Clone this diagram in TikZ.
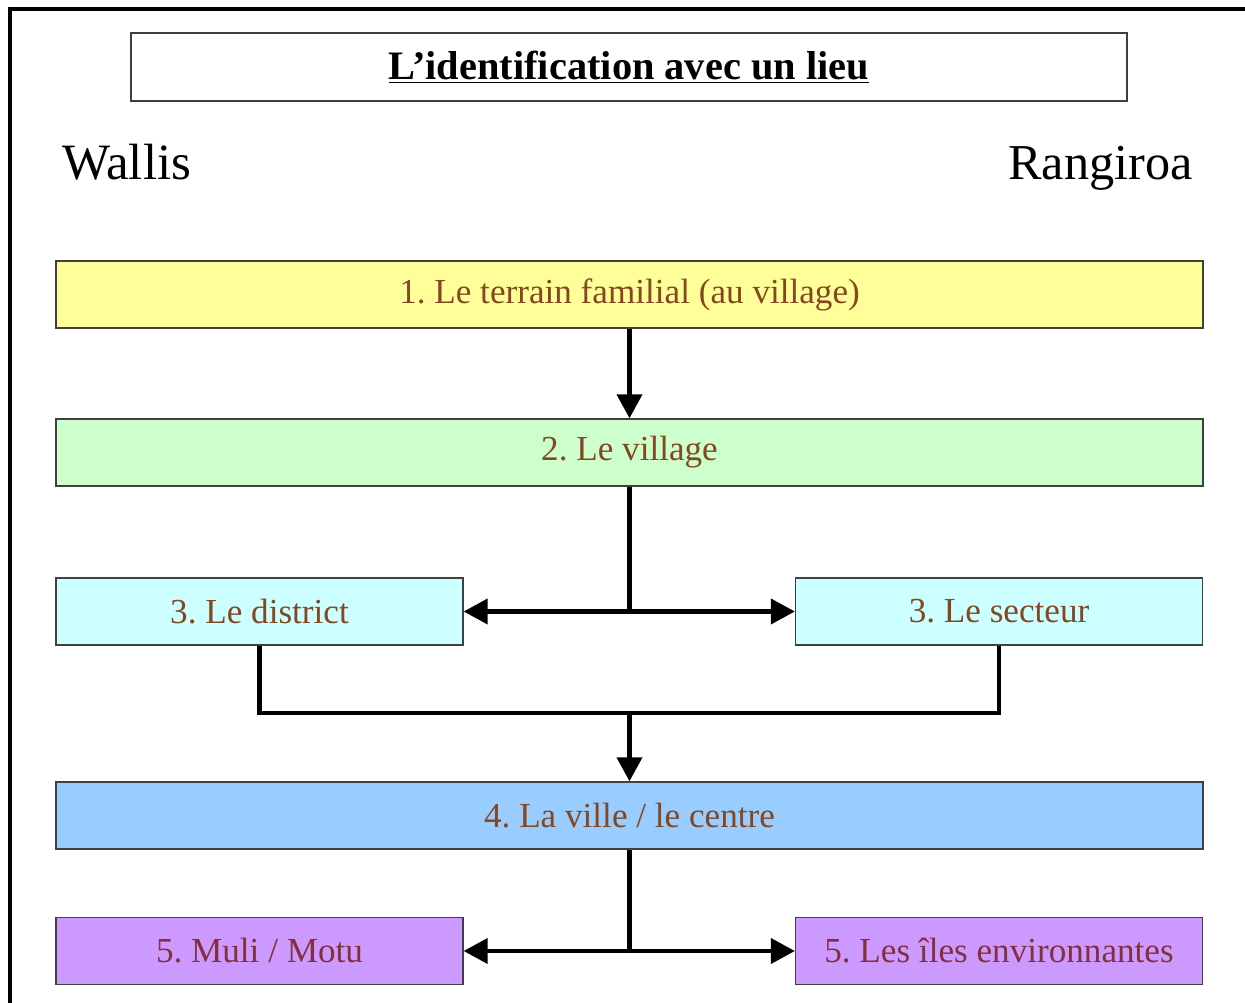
\documentclass[tikz,border=0pt]{standalone}
\usepackage{fontspec}
\setmainfont{Liberation Serif}
\usepackage{tikz}
\usetikzlibrary{arrows.meta, positioning}
\frenchspacing
\definecolor{txtbrun}{RGB}{132,72,32}
\definecolor{txtpourpre}{RGB}{132,48,60}
\definecolor{fondjaune}{RGB}{255,255,153}
\definecolor{fondvert}{RGB}{204,255,204}
\definecolor{fondcyan}{RGB}{204,255,255}
\definecolor{fondbleu}{RGB}{153,204,255}
\definecolor{fondmauve}{RGB}{204,153,255}

\begin{document}
\begin{tikzpicture}[x=0.02cm, y=-0.02cm,
        niveau/.style={rectangle, draw=black!75, line width=0.8pt, minimum width=22.94cm, minimum height=1.34cm, inner sep=0pt, text=txtbrun, font=\fontsize{20}{24}\selectfont},
        demi/.style={niveau, minimum width=8.14cm},
        lien/.style={line width=2.3pt},
        fleche/.style={lien, -{Triangle[length=0.48cm, width=0.5cm]}}]

        % Cadre et zone
        \useasboundingbox (0,0) rectangle (1245,1003);
        \draw[line width=1.8pt] (10,1003) -- (10,9) -- (1245,9);

        % Titre
        \node[rectangle, draw=black!75, line width=0.8pt, minimum width=19.92cm, minimum height=1.36cm, inner sep=0pt, font=\fontsize{23}{27}\selectfont\bfseries] (titre) at (629,67) {\underline{L’identification avec un lieu}};
        \node[font=\fontsize{29}{34}\selectfont, anchor=base west, inner sep=0pt] (wallis) at (62,180) {Wallis};
        \node[font=\fontsize{28.6}{34}\selectfont, anchor=base east, inner sep=0pt] (rangiroa) at (1193,180) {Rangiroa};

        % Niveaux
        \node[niveau, fill=fondjaune] (terrain) at (629.5,294.5) {1. Le terrain familial (au village)};
        \node[niveau, fill=fondvert] (village) at (629.5,452.5) {2. Le village};
        \node[demi, fill=fondcyan] (district) at (259.5,611.5) {3. Le district};
        \node[demi, fill=fondcyan] (secteur) at (999,611.5) {3. Le secteur};
        \node[niveau, fill=fondbleu] (ville) at (629.5,815.5) {4. La ville / le centre};
        \node[demi, fill=fondmauve, text=txtpourpre] (muli) at (259.5,951) {5. Muli / Motu};
        \node[demi, fill=fondmauve, text=txtpourpre] (iles) at (999,951) {5. Les îles environnantes};

        % Points de jonction
        \coordinate (j1) at (629.5,611.5);
        \coordinate (j2) at (629.5,713);
        \coordinate (j3) at (629.5,951);

        % Connexions
        \draw[fleche] (terrain) -- (village);
        \draw[lien] (village) -- (j1);
        \draw[fleche] (j1) -- (district);
        \draw[fleche] (j1) -- (secteur);
        \draw[lien] (district.south) |- (j2) -| (secteur.south);
        \draw[fleche] (j2) -- (ville);
        \draw[lien] (ville) -- (j3);
        \draw[fleche] (j3) -- (muli);
        \draw[fleche] (j3) -- (iles);
    \end{tikzpicture}
\end{document}
